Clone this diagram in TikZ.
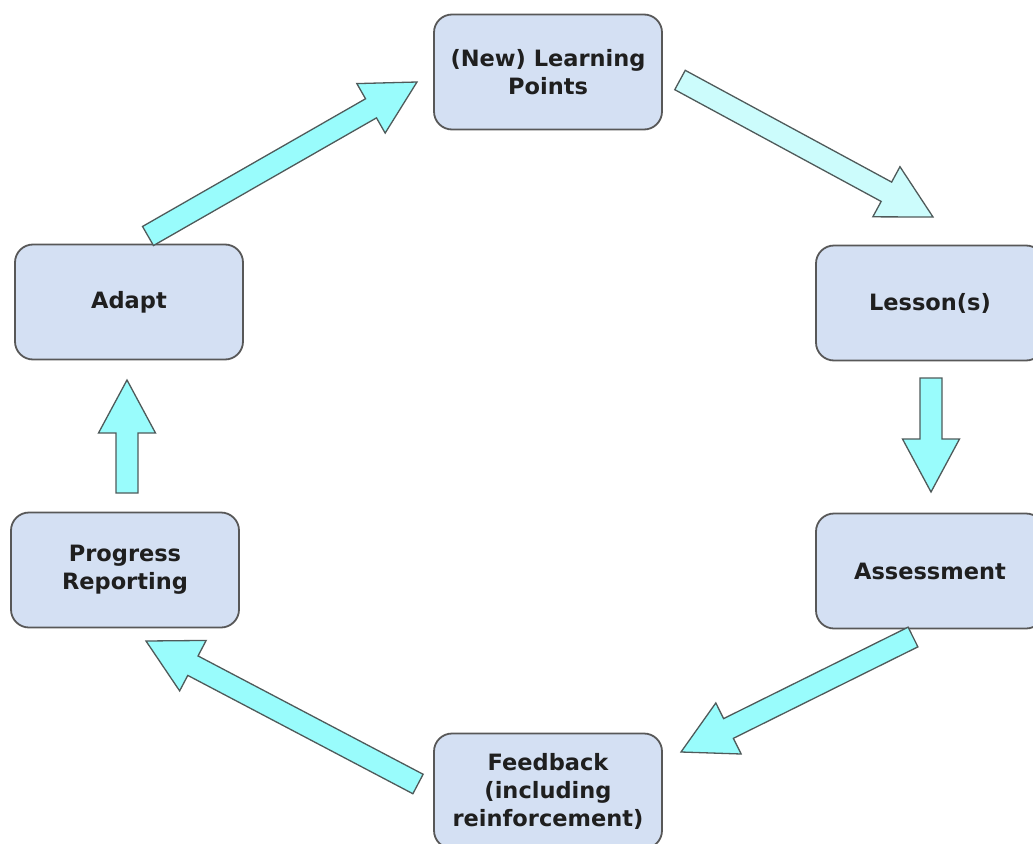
\documentclass[tikz,border=0pt]{standalone}
\usepackage{fontspec}
\setmainfont{DejaVu Sans}
\usetikzlibrary{calc}
\definecolor{boxfill}{HTML}{D4E0F3}
\definecolor{boxline}{HTML}{585858}
\definecolor{flowfill}{HTML}{99FCFC}
\definecolor{flowpale}{HTML}{CCFCFC}
\definecolor{flowline}{HTML}{4F5A5A}
\tikzset{
  stage/.style={draw=boxline, line width=1.8pt, fill=boxfill, rounded corners=18pt,
    minimum width=228pt, minimum height=115pt, align=center, inner sep=0pt,
    font=\fontsize{22.5}{28}\selectfont\bfseries, text=black!88},
  flow/.style={draw=flowline, line width=1.3pt, fill=flowfill, line join=miter},
}
% thick block arrow from #2 to #3
\newcommand{\fatarrow}[3][]{%
  \coordinate (fabase) at ($(#3)!53pt!(#2)$);
  \draw[flow,#1] ($(#2)!11pt!90:(#3)$) -- ($(fabase)!11pt!90:(#3)$)
    -- ($(fabase)!28.5pt!90:(#3)$) -- (#3) -- ($(fabase)!28.5pt!-90:(#3)$)
    -- ($(fabase)!11pt!-90:(#3)$) -- ($(#2)!11pt!-90:(#3)$) -- cycle;}
\begin{document}
\begin{tikzpicture}[x=1pt,y=-1pt]
  \useasboundingbox (0,0) rectangle (1033,843);
  \begin{scope}
  \clip (0,0) rectangle (1033,843);
  \node[stage] (points)   at (548,72)  {(New) Learning\\Points};
  \node[stage] (lesson)   at (930,303) {Lesson(s)};
  \node[stage] (assess)   at (930,571) {Assessment};
  \node[stage] (feedback) at (548,791) {Feedback\\(including\\reinforcement)};
  \node[stage] (adapt)    at (129,302) {Adapt};
  \node[stage] (progress) at (125,570) {Progress\\Reporting};

  \coordinate (adaptOut)    at (148,236);
  \coordinate (pointsIn)    at (417,82);
  \coordinate (pointsOut)   at (680,80);
  \coordinate (lessonIn)    at (933,217);
  \coordinate (lessonOut)   at (931,378);
  \coordinate (assessIn)    at (931,492);
  \coordinate (assessOut)   at (913,637);
  \coordinate (feedbackIn)  at (681,752);
  \coordinate (feedbackOut) at (418,784);
  \coordinate (progressIn)  at (146,641);
  \coordinate (progressOut) at (127,493);
  \coordinate (adaptIn)     at (127,380);

  \fatarrow{adaptOut}{pointsIn}
  \fatarrow[fill=flowpale]{pointsOut}{lessonIn}
  \fatarrow{lessonOut}{assessIn}
  \fatarrow{assessOut}{feedbackIn}
  \fatarrow{feedbackOut}{progressIn}
  \fatarrow{progressOut}{adaptIn}
  \end{scope}
\end{tikzpicture}
\end{document}
